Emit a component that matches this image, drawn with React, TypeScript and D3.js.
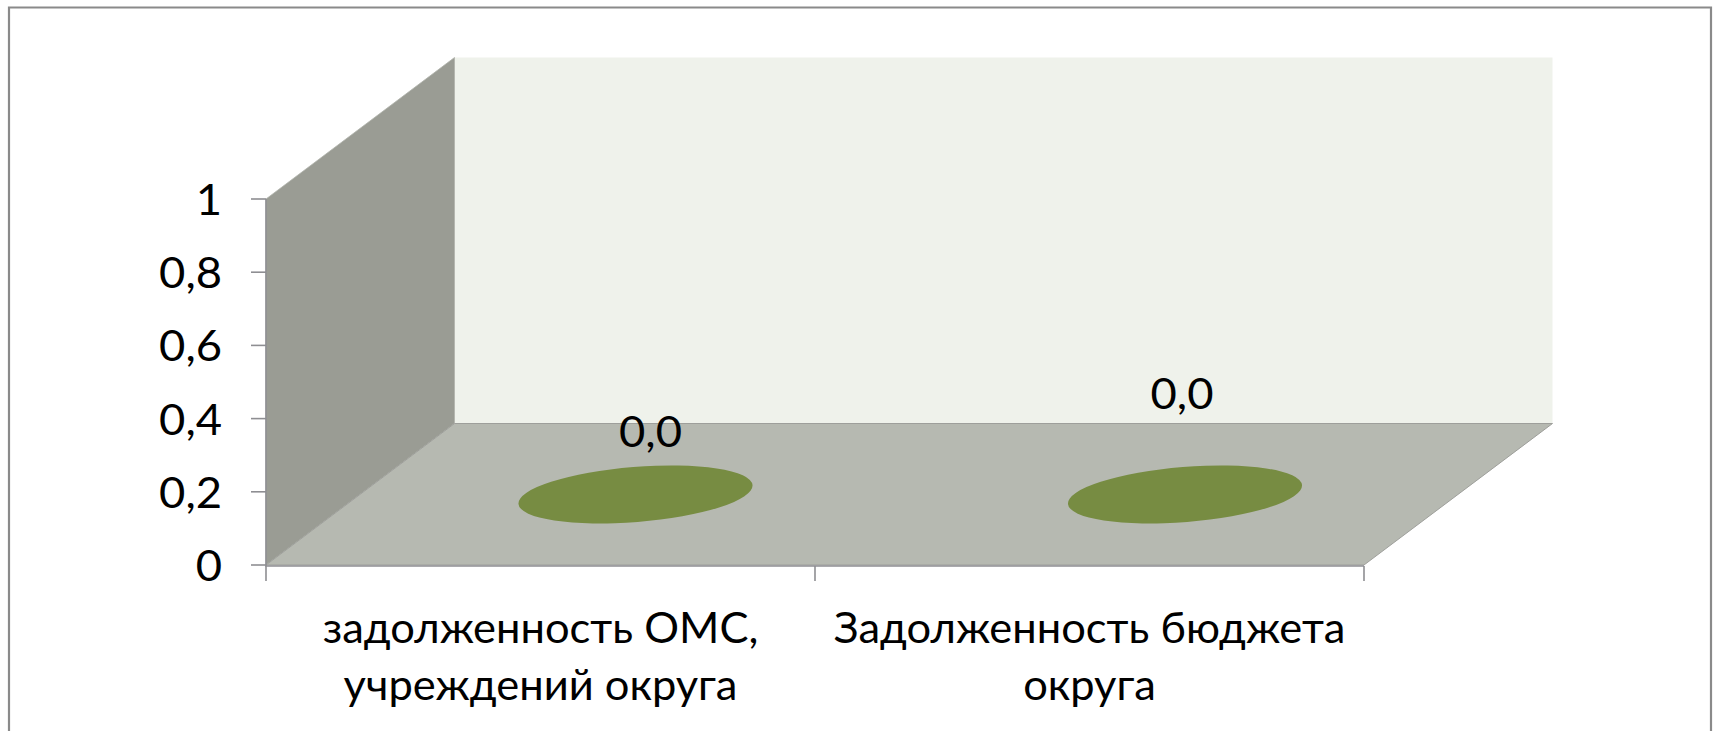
import React from "react";
import * as d3 from "d3";

const W = 1715, H = 731;
const yTicks = [0, 0.2, 0.4, 0.6, 0.8, 1];
const yTickLabels = ["0", "0,2", "0,4", "0,6", "0,8", "1"];
const categories = ["cat1", "cat2"];
const categoryLines = [["задолженность ОМС,", "учреждений округа"], ["Задолженность бюджета", "округа"]];
const values = [0, 0];
const valueLabels = ["0,0", "0,0"];
const labelOffsets = [[15, -48], [-3, -86]];
const FONT = "Lato, 'Open Sans', 'Noto Sans', sans-serif";
const SIZE = 42;

function Label({ x, y, sx, anchor, children }: { x: number; y: number; sx: number; anchor: string; children: React.ReactNode }) {
  return (
    <text transform={`translate(${x} ${y}) scale(${sx} 1)`} textAnchor={anchor} fontFamily={FONT} fontSize={SIZE} fill="#000">
      {children}
    </text>
  );
}

export default function App() {
  const x = d3.scaleBand<string>().domain(categories).range([266, 1364]);
  const y = d3.scaleLinear().domain([0, 1]).range([565, 199]);
  const dx = 188.5, dy = -141.5;
  const x0 = 266, x1 = 1364, y0 = y(0), yT = y(1);
  const poly = (p: number[][]) => d3.line()(p as [number, number][]) + "Z";
  const axis = "#8e8e92";
  return (
    <svg width={W} height={H} style={{ position: "absolute", left: 0, top: 0, display: "block" }}>
      <rect width={W} height={H} fill="#fff" />
      <path d={`M9 ${H}V7.5H1711V${H}`} fill="none" stroke="#8a8a8a" strokeWidth={2.2} />
      <path d={poly([[x0 + dx, yT + dy], [x1 + dx, yT + dy], [x1 + dx, y0 + dy], [x0 + dx, y0 + dy]])} fill="#eff2eb" />
      <path d={poly([[x0, yT], [x0 + dx, yT + dy], [x0 + dx, y0 + dy], [x0, y0]])} fill="#9a9c94" stroke="#b0b2ab" strokeWidth={0.8} />
      <path d={poly([[x0, y0], [x0 + dx, y0 + dy], [x1 + dx, y0 + dy], [x1, y0]])} fill="#b6b9b1" stroke="#9e9f9b" strokeWidth={1} />
      <path d={`M${x0} ${yT}V${y0 + 1}H${x1}`} fill="none" stroke={axis} strokeWidth={1.6} />
      {yTicks.map((t, i) => (
        <g key={t}>
          <line x1={x0 - 15} x2={x0} y1={y(t)} y2={y(t)} stroke={axis} strokeWidth={1.6} />
          <Label x={x0 - 44} y={y(t) + 16} sx={1.08} anchor="end">{yTickLabels[i]}</Label>
        </g>
      ))}
      {[x0, x1 / 2 + x0 / 2, x1].map((tx) => (
        <line key={tx} x1={tx} x2={tx} y1={y0 + 1} y2={y0 + 16} stroke={axis} strokeWidth={1.6} />
      ))}
      {categories.map((c, i) => {
        const cx = (x(c) as number) + x.bandwidth() / 2 + 95 + (i === 1 ? 0.5 : 0);
        const cy = y(values[i]) - 70.5;
        return (
          <g key={c}>
            <ellipse cx={cx} cy={cy} rx={117.4} ry={27.5} fill="#778c42" transform={`rotate(-4.6 ${cx} ${cy})`} />
            <Label x={cx + labelOffsets[i][0]} y={cy + labelOffsets[i][1]} sx={1.08} anchor="middle">{valueLabels[i]}</Label>
            {categoryLines[i].map((ln, j) => (
              <Label key={j} x={(x(c) as number) + x.bandwidth() / 2} y={643 + j * 57} sx={1.035} anchor="middle">{ln}</Label>
            ))}
          </g>
        );
      })}
    </svg>
  );
}
